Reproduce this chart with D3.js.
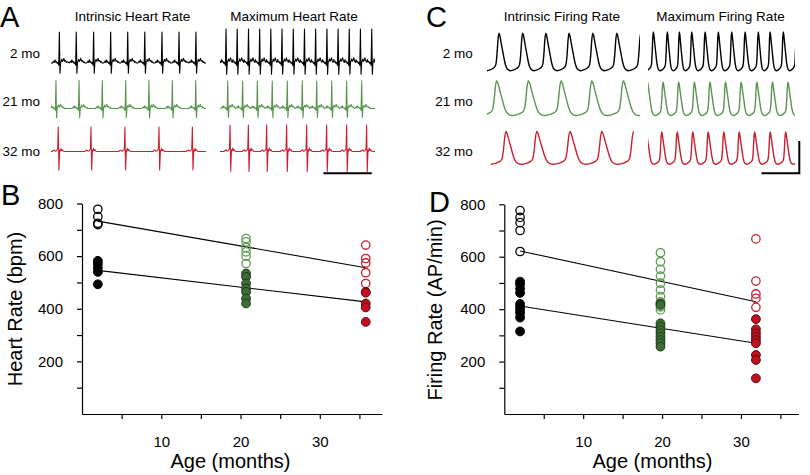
<!DOCTYPE html>
<html>
<head>
<meta charset="utf-8">
<script src="https://cdn.jsdelivr.net/npm/d3@7"></script>
<style>
  body { margin: 0; background: #fff; }
  svg { font-family: "Liberation Sans", Arial, sans-serif; }
</style>
</head>
<body>
<div id="chart"></div>
<script>
// ---------- data ----------
const rowLabels = ['2 mo', '21 mo', '32 mo'];

// Panel A: ECG R-peak times (ms) within a 1000 ms window
const hrIntrinsicBeats = [
  [54, 163, 275, 385, 495, 605, 716, 826, 935],
  [32, 181, 331, 482, 632, 783, 934],
  [47, 258, 477, 697, 912]
];
const hrMaxBeats = [
  [39, 111, 184, 256, 328, 400, 473, 545, 617, 690, 762, 834, 906, 979],
  [50, 146, 241, 337, 434, 531, 624, 721, 817, 914],
  [65, 183, 301, 430, 559, 688, 817, 946]
];
const ecgAmpIntrinsic = [0.62, 0.56, 0.49];   // mV
const ecgAmpMax = [0.68, 0.55, 0.53];
// one beat, ms from R peak, amplitude relative to R
const ecgWaveYoung = [[-45, 0], [-41, 0.03], [-36, 0.06], [-32, 0.02], [-28, 0.1], [-24, 0.03],
  [-20, 0.05], [-14, -0.01], [-9, 0.02], [-4, -0.07], [0, 1], [4, -0.33], [8, 0.02],
  [12, 0.06], [16, 0.12], [20, 0.05], [25, 0.09], [29, 0.15], [34, 0.06], [40, 0.08],
  [46, 0.02], [51, 0.04], [55, 0]];
const ecgWaveOld = [[-40, 0], [-35, 0.03], [-26, 0.06], [-20, 0.01], [-12, 0.03], [-4, 0.1],
  [0, 1], [4, -0.75], [9, 0.06], [13, 0.02], [17, 0.13], [22, 0.04], [27, 0.07], [33, 0.01],
  [40, 0]];
const ecgScaleBarMs = 312;

// Panel C: action potential peak times (ms) within a 1000 ms window
const apIntrinsicPeaks = [
  [78, 233, 384, 536, 691, 848],
  [63, 270, 484, 684, 891],
  [124, 325, 542, 750]
];
const apMaxPeaks = [
  [36, 131, 213, 297, 388, 478, 569, 660, 750, 830, 920],
  [102, 208, 315, 421, 527, 633, 740, 846, 952],
  [93, 198, 304, 409, 515, 620, 725, 831, 936]
];
const apIntrinsicSpan = [[0, 1000], [0, 1000], [24, 967]];
const apMaxSpan = [[0, 1000], [0, 1000], [0, 1000]];
const apAmpIntrinsic = [58, 54, 51];  // mV
const apAmpMax = [60, 52, 50];
// one cycle, phase from peak to next peak, normalised voltage
const apWave = [[0, 1], [0.04, 0.93], [0.1, 0.72], [0.18, 0.45], [0.25, 0.22], [0.32, 0.08],
  [0.4, 0.02], [0.5, 0], [0.62, 0.02], [0.74, 0.06], [0.84, 0.12], [0.88, 0.2],
  [0.92, 0.45], [0.96, 0.82], [1, 1]];
const apScaleBarMs = 257;
const apScaleBarMv = 50;

// Panel B: heart rate (bpm)
const hrAges = [2, 20.7, 35.8];
const hrIntrinsic = [
  [582, 570, 555, 540, 493],
  [534, 521, 496, 477, 464, 439, 420],
  [464, 461, 420, 405, 350]
];
const hrMaximum = [
  [778, 750, 725, 720],
  [667, 654, 633, 616, 600, 572],
  [642, 591, 574, 537, 496]
];
const hrFitMax = [[2, 733], [35.8, 556]];
const hrFitIntrinsic = [[2, 546], [35.8, 426]];

// Panel D: firing rate (AP/min)
const frAges = [2, 19.8, 31.9];
const frIntrinsic = [
  [505, 495, 478, 462, 420, 410, 398, 385, 368, 315],
  [422, 416, 346, 333, 320, 308, 295, 282, 270, 257],
  [362, 323, 308, 295, 282, 270, 225, 206, 136]
];
const frMaximum = [
  [776, 750, 730, 700, 620],
  [615, 581, 552, 526, 499, 473, 448, 428, 409, 397],
  [668, 507, 458, 441, 407]
];
const frFitMax = [[2, 622], [31.9, 428]];
const frFitIntrinsic = [[2, 412], [31.9, 270]];

const yTicks = [100, 200, 300, 400, 500, 600, 700, 800];
const xTicks = [5, 10, 15, 20, 25, 30, 35];

// ---------- styles ----------
const traceColor = ['#000000', '#5a9650', '#cc1f2e'];
const openColor = ['#000000', '#5e9b54', '#c8202f'];
const fillColor = ['#000000', '#3c6e35', '#c3101f'];
const fillStroke = ['#000000', '#1d3a19', '#560a10'];

const svg = d3.select('#chart').append('svg')
  .attr('width', 810)
  .attr('height', 475);

// panel letters
[['A', 0, 26.7], ['B', 1, 205], ['C', 426, 26.7], ['D', 429, 212]].forEach(([t, x, y]) => {
  svg.append('text').attr('x', x).attr('y', y)
    .attr('font-size', '29px').text(t);
});

// ---------- trace helpers ----------
function ecgPoints(beats, wave, span) {
  const pts = [[span[0], 0]];
  beats.forEach((b, i) => {
    const prevGap = i > 0 ? b - beats[i - 1] : Infinity;
    const nextGap = i < beats.length - 1 ? beats[i + 1] - b : Infinity;
    wave.forEach(([t, v]) => {
      if (t > -prevGap / 2 && t <= nextGap / 2) pts.push([b + t, v]);
    });
  });
  pts.push([span[1], 0]);
  return pts.filter(p => p[0] >= span[0] && p[0] <= span[1]);
}

function apPoints(peaks, wave) {
  const n = peaks.length;
  const all = [peaks[0] - (peaks[1] - peaks[0]), ...peaks, peaks[n - 1] + (peaks[n - 1] - peaks[n - 2])];
  const pts = [];
  for (let i = 0; i < all.length - 1; i++) {
    const gap = all[i + 1] - all[i];
    wave.forEach(([ph, v], j) => {
      if (j === wave.length - 1 && i < all.length - 2) return;
      pts.push([all[i] + ph * gap, v]);
    });
  }
  return pts;
}

let clipId = 0;
function drawTrace(pts, x, yFn, color, span, curve, width) {
  const id = 'clip' + (clipId++);
  svg.append('clipPath').attr('id', id)
    .append('rect')
    .attr('x', x(span[0])).attr('y', 0)
    .attr('width', x(span[1]) - x(span[0])).attr('height', 200);
  const line = d3.line().x(d => x(d[0])).y(d => yFn(d[1])).curve(curve);
  svg.append('path')
    .datum(pts)
    .attr('clip-path', `url(#${id})`)
    .attr('d', line)
    .attr('fill', 'none')
    .attr('stroke', color)
    .attr('stroke-width', width)
    .attr('stroke-linejoin', 'round');
}

// ---------- Panel A ----------
const ecgBaseY = [63, 108.5, 151.5];
const ecgPxPerMv = 50;
const xA1 = d3.scaleLinear().domain([0, 1000]).range([51, 206]);
const xA2 = d3.scaleLinear().domain([0, 1000]).range([220, 375]);

svg.append('text').attr('x', 132.5).attr('y', 20.5).attr('text-anchor', 'middle')
  .attr('font-size', '13.5px').text('Intrinsic Heart Rate');
svg.append('text').attr('x', 294).attr('y', 20.5).attr('text-anchor', 'middle')
  .attr('font-size', '13.5px').text('Maximum Heart Rate');

rowLabels.forEach((lab, r) => {
  svg.append('text').attr('x', 40).attr('y', [57.5, 106, 156][r])
    .attr('text-anchor', 'end').attr('font-size', '13.5px').text(lab);
  const wave = r === 2 ? ecgWaveOld : ecgWaveYoung;
  drawTrace(ecgPoints(hrIntrinsicBeats[r], wave, [0, 1000]), xA1,
    v => ecgBaseY[r] - v * ecgAmpIntrinsic[r] * ecgPxPerMv, traceColor[r], [0, 1000], d3.curveLinear, 1.1);
  drawTrace(ecgPoints(hrMaxBeats[r], wave, [0, 1000]), xA2,
    v => ecgBaseY[r] - v * ecgAmpMax[r] * ecgPxPerMv, traceColor[r], [0, 1000], d3.curveLinear, 1.1);
});

// scale bar A
svg.append('line')
  .attr('x1', xA2(667)).attr('x2', xA2(667 + ecgScaleBarMs))
  .attr('y1', 173.3).attr('y2', 173.3)
  .attr('stroke', '#000').attr('stroke-width', 2);

// ---------- Panel C ----------
const apMinY = [70.7, 115.5, 164.3];
const apPxPerMv = 0.645;
const xC1 = d3.scaleLinear().domain([0, 1000]).range([487, 640]);
const xC2 = d3.scaleLinear().domain([0, 1000]).range([648, 795]);

svg.append('text').attr('x', 562).attr('y', 20.5).attr('text-anchor', 'middle')
  .attr('font-size', '13.5px').text('Intrinsic Firing Rate');
svg.append('text').attr('x', 720.5).attr('y', 20.5).attr('text-anchor', 'middle')
  .attr('font-size', '13.5px').text('Maximum Firing Rate');

rowLabels.forEach((lab, r) => {
  svg.append('text').attr('x', 472.7).attr('y', [57.5, 106, 156][r])
    .attr('text-anchor', 'end').attr('font-size', '13.5px').text(lab);
  drawTrace(apPoints(apIntrinsicPeaks[r], apWave), xC1,
    v => apMinY[r] - v * apAmpIntrinsic[r] * apPxPerMv, traceColor[r], apIntrinsicSpan[r], d3.curveMonotoneX, 1.4);
  drawTrace(apPoints(apMaxPeaks[r], apWave), xC2,
    v => apMinY[r] - v * apAmpMax[r] * apPxPerMv, traceColor[r], apMaxSpan[r], d3.curveMonotoneX, 1.4);
});

// scale bar C (L shape)
const barRight = 799.3, barBottom = 173.3;
svg.append('path')
  .attr('d', `M${barRight - (xC2(apScaleBarMs) - xC2(0))},${barBottom}H${barRight}V${barBottom - apScaleBarMv * apPxPerMv}`)
  .attr('fill', 'none').attr('stroke', '#000').attr('stroke-width', 2);

// ---------- scatter panels ----------
function scatterPanel(opts) {
  const x = d3.scaleLinear().domain([0, opts.xMax]).range(opts.xRange);
  const y = d3.scaleLinear().domain([0, 800]).range([414, opts.yTop]);
  const g = svg.append('g');

  g.append('g')
    .attr('transform', `translate(0,414)`)
    .call(d3.axisBottom(x).tickValues(xTicks).tickSize(5).tickSizeOuter(0).tickPadding(17)
      .tickFormat(d => d % 10 === 0 ? d : ''));
  g.append('g')
    .attr('transform', `translate(${opts.xRange[0]},0)`)
    .call(d3.axisLeft(y).tickValues(yTicks).tickSize(5).tickSizeOuter(0).tickPadding(14)
      .tickFormat(d => d % 200 === 0 ? d : ''));
  g.selectAll('.domain, .tick line').attr('stroke', '#000').attr('stroke-width', 1.2);
  g.selectAll('.tick text').attr('font-size', '15px').attr('font-family', '"Liberation Sans", Arial, sans-serif').attr('fill', '#000');

  const line = d3.line().x(d => x(d[0])).y(d => y(d[1]));
  [opts.fitMax, opts.fitIntr].forEach(f => {
    g.append('path').datum(f).attr('d', line)
      .attr('fill', 'none').attr('stroke', '#000').attr('stroke-width', 1.1);
  });

  opts.ages.forEach((age, i) => {
    g.selectAll(null).data(opts.maximum[i]).enter().append('circle')
      .attr('cx', x(age)).attr('cy', d => y(d)).attr('r', 4.2)
      .attr('fill', 'none').attr('stroke', openColor[i]).attr('stroke-width', 1.3);
    g.selectAll(null).data(opts.intrinsic[i]).enter().append('circle')
      .attr('cx', x(age)).attr('cy', d => y(d)).attr('r', 4.4)
      .attr('fill', fillColor[i]).attr('stroke', fillStroke[i]).attr('stroke-width', 1);
  });

  g.append('text')
    .attr('transform', `translate(${opts.yTitlePos[0]},${opts.yTitlePos[1]}) rotate(-90)`)
    .attr('text-anchor', 'middle').attr('font-size', '20px').text(opts.yTitle);
  g.append('text')
    .attr('x', opts.xTitleX).attr('y', 467.5)
    .attr('text-anchor', 'middle').attr('font-size', '20px').text('Age (months)');
}

scatterPanel({
  xMax: 37.85, xRange: [82, 382], yTop: 203.5,
  ages: hrAges, intrinsic: hrIntrinsic, maximum: hrMaximum,
  fitMax: hrFitMax, fitIntr: hrFitIntrinsic,
  yTitle: 'Heart Rate (bpm)', yTitlePos: [22, 309], xTitleX: 230.5
});

scatterPanel({
  xMax: 37.3, xRange: [504.3, 798.5], yTop: 204.3,
  ages: frAges, intrinsic: frIntrinsic, maximum: frMaximum,
  fitMax: frFitMax, fitIntr: frFitIntrinsic,
  yTitle: 'Firing Rate (AP/min)', yTitlePos: [442, 310], xTitleX: 652.5
});
</script>
</body>
</html>
